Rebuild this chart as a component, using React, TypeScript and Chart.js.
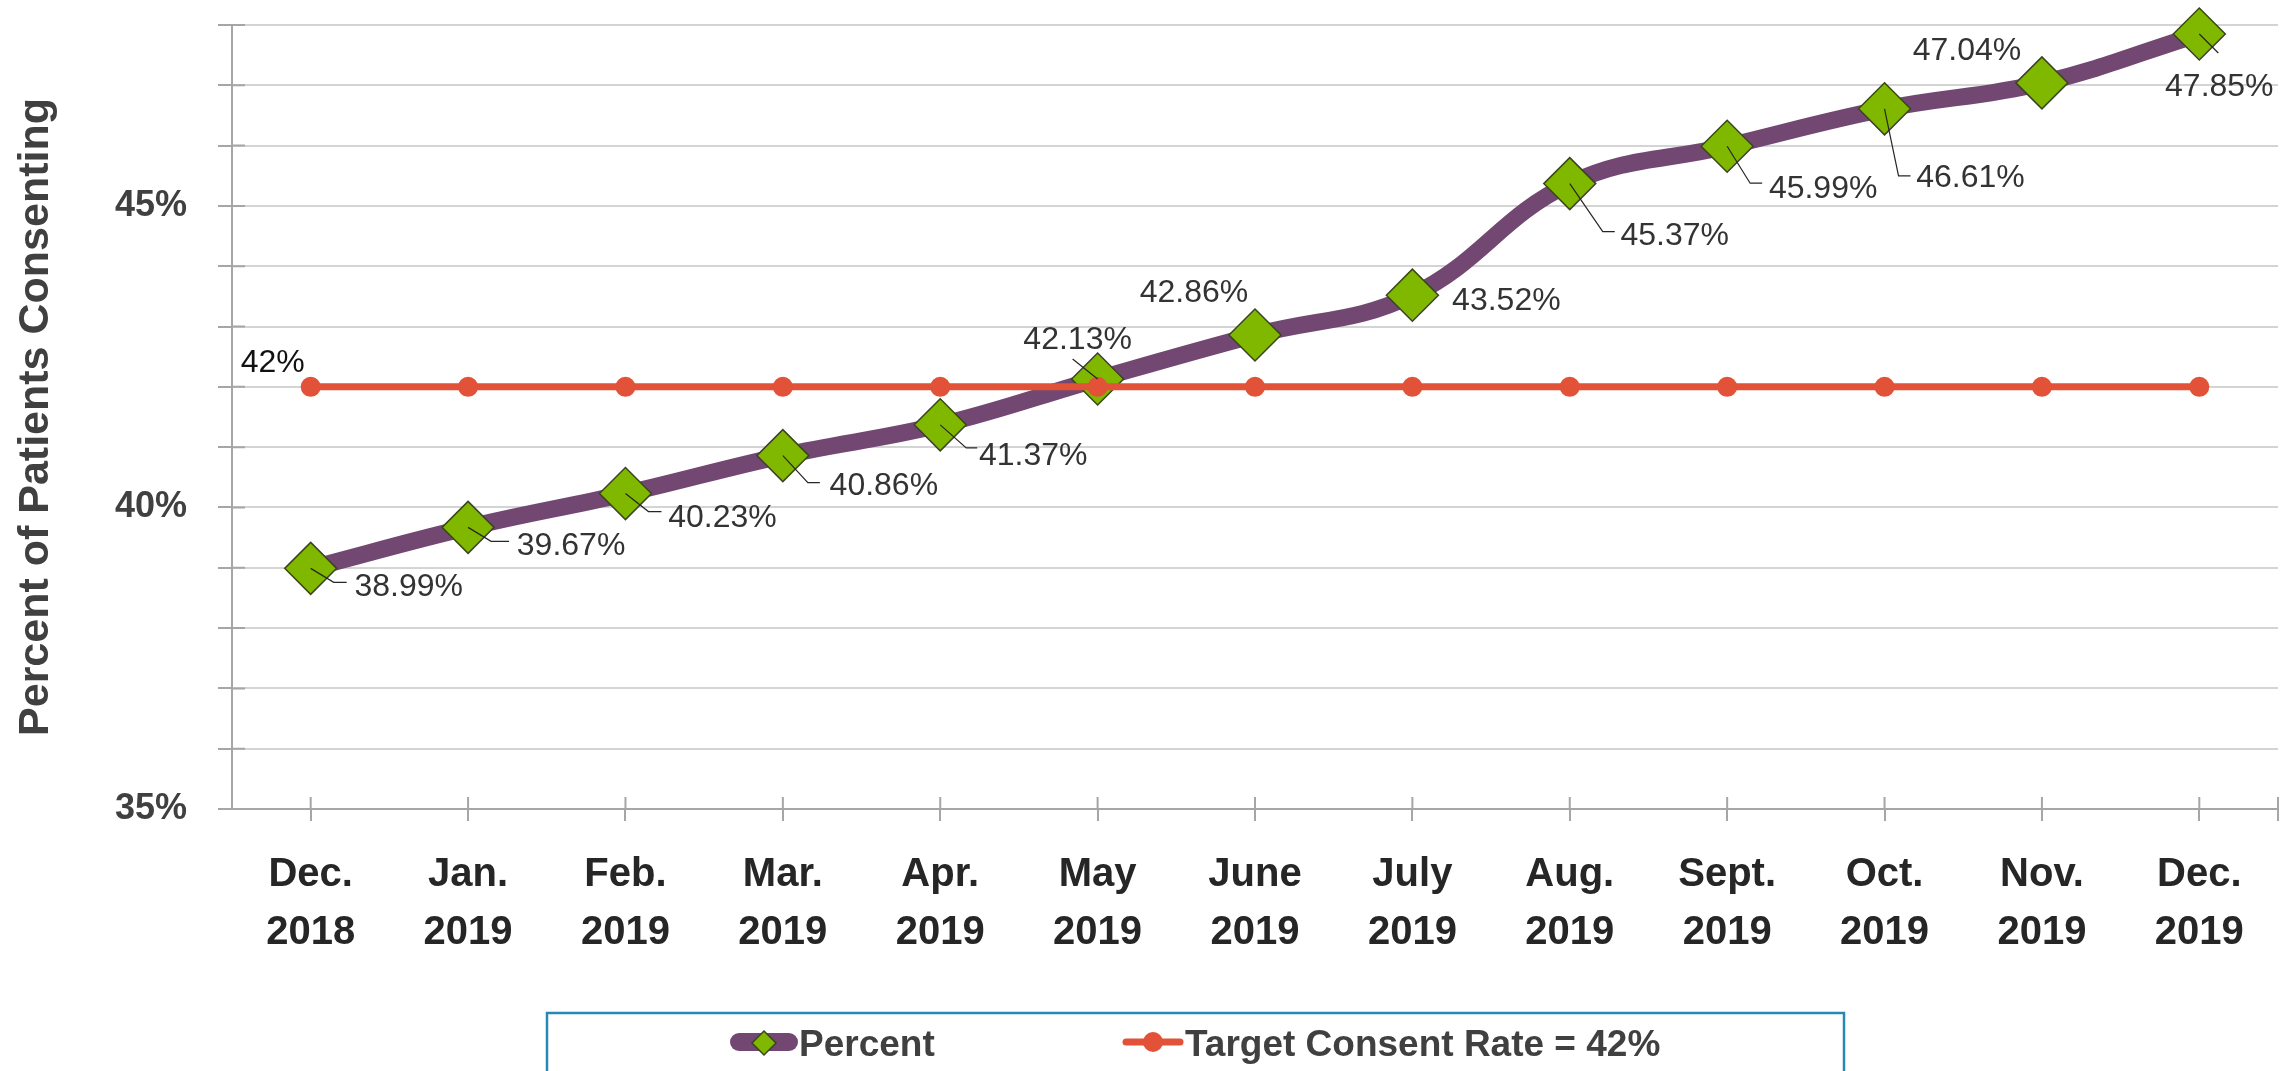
import React, { useEffect, useRef } from 'react';
import { Chart, registerables } from 'chart.js';

Chart.register(...registerables);

// ---------- data ----------
const monthLabels = ['Dec.', 'Jan.', 'Feb.', 'Mar.', 'Apr.', 'May', 'June', 'July', 'Aug.', 'Sept.', 'Oct.', 'Nov.', 'Dec.'];
const yearLabels = ['2018', '2019', '2019', '2019', '2019', '2019', '2019', '2019', '2019', '2019', '2019', '2019', '2019'];
const percentValues = [38.99, 39.67, 40.23, 40.86, 41.37, 42.13, 42.86, 43.52, 45.37, 45.99, 46.61, 47.04, 47.85];
const targetValues = [42, 42, 42, 42, 42, 42, 42, 42, 42, 42, 42, 42, 42];
const seriesNames = ['Percent', 'Target Consent Rate = 42%'];
const yAxisTitle = 'Percent of Patients Consenting';
const yMin = 35;
const yMax = 48;
const yStep = 1;
const yLabelEvery = 5;

// ---------- label layout (offsets from each point, in px) ----------
const labelDx = [98, 103, 97, 101, 93, -20, -61, 94, 105, 96, 86, -75, 20];
const labelDy = [18, 18, 24, 30, 30, -40, -43, 5, 52, 42, 68, -33, 52];
const leaderPaths: (number[][] | null)[] = [
  [[23, 14], [36, 14]],
  [[23, 14], [41, 14]],
  [[23, 18], [36, 18]],
  [[25, 27], [37, 27]],
  [[26, 23], [37, 23]],
  [[-25, -20]],
  null,
  null,
  [[33, 48], [45, 48]],
  [[23, 37], [35, 37]],
  [[14, 67], [26, 67]],
  null,
  [[19, 19]],
];

const FONT = '"Liberation Sans", Arial, sans-serif';
const PURPLE = '#724873';
const GREEN = '#80B800';
const RED = '#E25238';
const DIAMOND_EDGE = '#3a4420';
const AXIS_GRAY = '#a6a6a6';

function drawDiamond(ctx: CanvasRenderingContext2D, x: number, y: number, r: number) {
  ctx.beginPath();
  ctx.moveTo(x - r, y);
  ctx.lineTo(x, y - r);
  ctx.lineTo(x + r, y);
  ctx.lineTo(x, y + r);
  ctx.closePath();
  ctx.fillStyle = GREEN;
  ctx.fill();
  ctx.lineWidth = 1.5;
  ctx.strokeStyle = DIAMOND_EDGE;
  ctx.stroke();
}

const crossTickPlugin = {
  id: 'crossTicks',
  beforeDatasetsDraw(chart: any) {
    const ctx: CanvasRenderingContext2D = chart.ctx;
    const xs = chart.scales.x;
    const ys = chart.scales.y;
    const area = chart.chartArea;
    ctx.save();
    ctx.strokeStyle = AXIS_GRAY;
    ctx.lineWidth = 2;
    ctx.beginPath();
    xs.ticks.forEach((_t: any, i: number) => {
      const px = xs.getPixelForTick(i);
      ctx.moveTo(px, area.bottom);
      ctx.lineTo(px, area.bottom - 12);
    });
    // closing tick at right end of category axis
    ctx.moveTo(area.right, area.bottom - 12);
    ctx.lineTo(area.right, area.bottom + 12);
    ys.ticks.forEach((_t: any, i: number) => {
      const py = ys.getPixelForTick(i);
      ctx.moveTo(area.left, py);
      ctx.lineTo(area.left + 13, py);
    });
    ctx.stroke();
    ctx.restore();
  },
};

const labelPlugin = {
  id: 'pctLabels',
  afterDatasetsDraw(chart: any) {
    const ctx: CanvasRenderingContext2D = chart.ctx;
    const meta = chart.getDatasetMeta(0);
    ctx.save();
    meta.data.forEach((pt: any, i: number) => {
      const x = pt.x;
      const y = pt.y;
      const leader = leaderPaths[i];
      if (leader) {
        ctx.beginPath();
        ctx.moveTo(x, y);
        leader.forEach(([dx, dy]) => ctx.lineTo(x + dx, y + dy));
        ctx.strokeStyle = '#262626';
        ctx.lineWidth = 1.2;
        ctx.stroke();
      }
      ctx.font = `32px ${FONT}`;
      ctx.fillStyle = '#333333';
      ctx.textAlign = 'center';
      ctx.textBaseline = 'middle';
      ctx.fillText(percentValues[i].toFixed(2) + '%', x + labelDx[i], y + labelDy[i] + 1);
    });
    const tmeta = chart.getDatasetMeta(1);
    const p0 = tmeta.data[0];
    ctx.font = `32px ${FONT}`;
    ctx.fillStyle = '#111111';
    ctx.textAlign = 'center';
    ctx.textBaseline = 'middle';
    ctx.fillText(targetValues[0] + '%', p0.x - 38, p0.y - 24);
    ctx.restore();
  },
  afterDraw(chart: any) {
    const ctx: CanvasRenderingContext2D = chart.ctx;
    ctx.save();
    // legend box
    ctx.strokeStyle = '#2589b5';
    ctx.lineWidth = 2.5;
    ctx.strokeRect(547, 1013, 1297, 120);
    const cy = 1042;
    // item 1
    ctx.beginPath();
    ctx.moveTo(739, cy);
    ctx.lineTo(789, cy);
    ctx.lineCap = 'round';
    ctx.lineWidth = 18;
    ctx.strokeStyle = PURPLE;
    ctx.stroke();
    drawDiamond(ctx, 764, cy + 1, 12);
    ctx.font = `bold 37px ${FONT}`;
    ctx.fillStyle = '#404040';
    ctx.textAlign = 'left';
    ctx.textBaseline = 'alphabetic';
    ctx.fillText(seriesNames[0], 799, 1056);
    // item 2
    ctx.beginPath();
    ctx.moveTo(1126, cy);
    ctx.lineTo(1180, cy);
    ctx.lineCap = 'round';
    ctx.lineWidth = 7;
    ctx.strokeStyle = RED;
    ctx.stroke();
    ctx.beginPath();
    ctx.arc(1153, cy, 10, 0, Math.PI * 2);
    ctx.fillStyle = RED;
    ctx.fill();
    ctx.fillStyle = '#404040';
    ctx.fillText(seriesNames[1], 1185, 1056);
    ctx.restore();
  },
};

export default function App() {
  const canvasRef = useRef<HTMLCanvasElement | null>(null);

  useEffect(() => {
    document.body.style.margin = '0';
    document.body.style.overflow = 'hidden';
    const canvas = canvasRef.current;
    if (!canvas) return;
    Chart.defaults.font.family = FONT;

    const labels = monthLabels.map((m, i) => [m, yearLabels[i]]);

    const chart = new Chart(canvas, {
      type: 'line',
      data: {
        labels,
        datasets: [
          {
            label: seriesNames[0],
            data: percentValues,
            borderColor: PURPLE,
            borderWidth: 17,
            tension: 0.4,
            pointStyle: 'rectRot',
            pointRadius: 26,
            pointBackgroundColor: GREEN,
            pointBorderColor: DIAMOND_EDGE,
            pointBorderWidth: 1.5,
            fill: false,
            clip: false as any,
            order: 2,
          },
          {
            label: seriesNames[1],
            data: targetValues,
            borderColor: RED,
            borderWidth: 7,
            tension: 0,
            pointStyle: 'circle',
            pointRadius: 10,
            pointBackgroundColor: RED,
            pointBorderWidth: 0,
            fill: false,
            clip: false as any,
            order: 1,
          },
        ],
      },
      options: {
        responsive: false,
        animation: false,
        devicePixelRatio: 1,
        layout: { autoPadding: false, padding: { top: 25, right: 17, bottom: 0, left: 0 } },
        plugins: {
          legend: { display: false },
          tooltip: { enabled: false },
        },
        scales: {
          x: {
            offset: true,
            ticks: {
              autoSkip: false,
              maxRotation: 0,
              minRotation: 0,
              font: { size: 40, weight: 'bold', lineHeight: 1.45, family: FONT },
              color: '#262626',
              padding: 25,
            },
            grid: {
              offset: false,
              drawOnChartArea: false,
              drawTicks: true,
              tickLength: 12,
              tickColor: AXIS_GRAY,
              lineWidth: 2,
            },
            border: { color: AXIS_GRAY, width: 2 },
            afterFit: (s: any) => {
              s.height = 262;
              s.paddingLeft = 0;
              s.paddingRight = 0;
            },
          },
          y: {
            min: yMin,
            max: yMax,
            ticks: {
              stepSize: yStep,
              autoSkip: false,
              callback: (v: any) => (Number(v) % yLabelEvery === 0 ? v + '%' : ''),
              font: { size: 36, weight: 'bold', family: FONT },
              color: '#404040',
              padding: 31,
            },
            grid: {
              color: '#d4d4d4',
              lineWidth: 2,
              drawTicks: true,
              tickLength: 14,
              tickColor: AXIS_GRAY,
            },
            border: { color: AXIS_GRAY, width: 2 },
            title: {
              display: true,
              text: yAxisTitle,
              font: { size: 43, weight: 'bold', family: FONT },
              color: '#404040',
              padding: { top: 10, bottom: 0 },
            },
            afterFit: (s: any) => {
              s.width = 232;
              s.paddingTop = 0;
              s.paddingBottom = 0;
            },
          },
        },
      },
      plugins: [crossTickPlugin, labelPlugin],
    });

    return () => {
      chart.destroy();
    };
  }, []);

  return (
    <div style={{ width: 2295, height: 1071, position: 'relative' }}>
      <canvas ref={canvasRef} width={2295} height={1071} style={{ display: 'block' }} />
    </div>
  );
}
